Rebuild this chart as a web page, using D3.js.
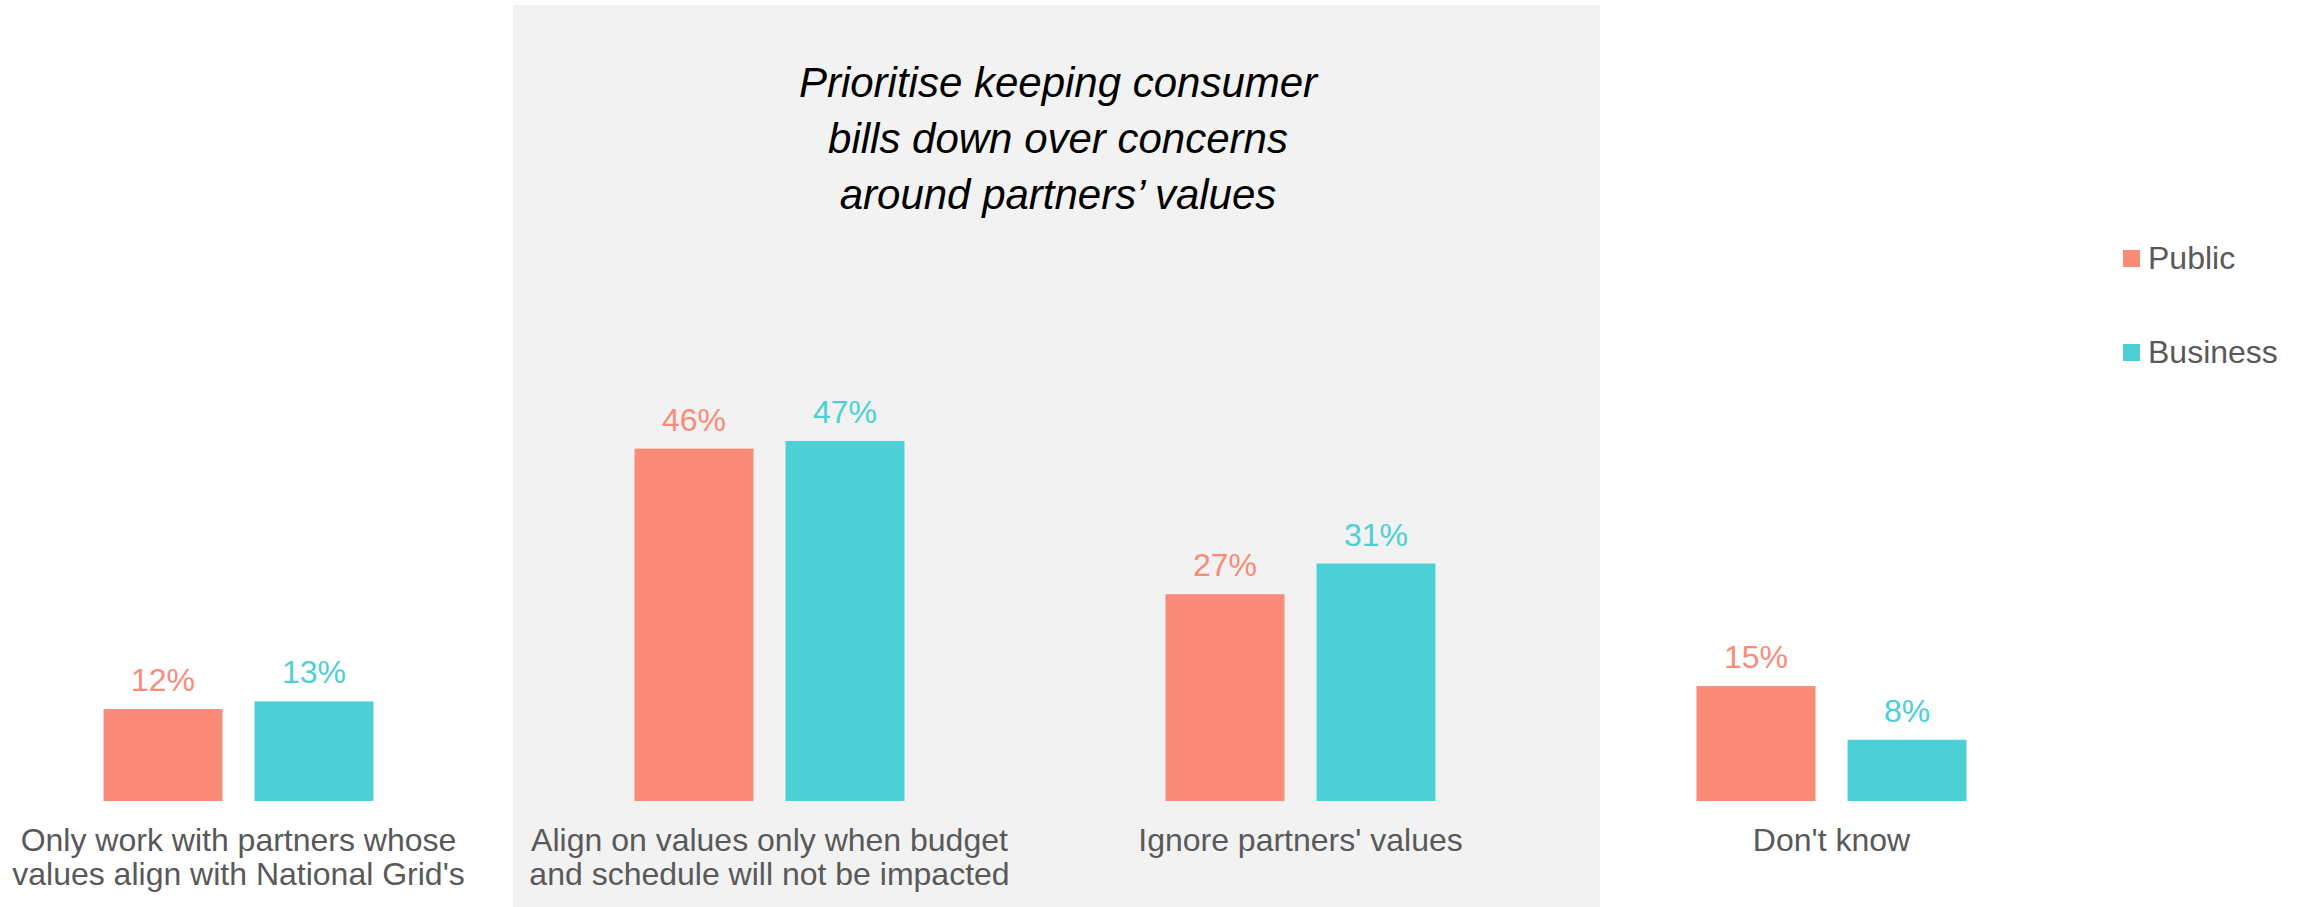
<!DOCTYPE html>
<html>

<head>
    <title>Partners' values</title>
    <script src="https://d3js.org/d3.v7.min.js"></script>
    <style>
        body { margin: 0; background: #ffffff; }
        text { font-family: "Liberation Sans", Arial, sans-serif; }
    </style>
</head>

<body>
    <svg class='chart_svg' width='2300' height='907'></svg>

    <script>
        // data
        let categories = ['only', 'align', 'ignore', 'dontknow']
        let category_lines = [
            ["Only work with partners whose", "values align with National Grid's"],
            ["Align on values only when budget", "and schedule will not be impacted"],
            ["Ignore partners' values"],
            ["Don't know"]
        ]
        let series = ['Public', 'Business']
        let public_values = [12, 46, 27, 15]
        let business_values = [13, 47, 31, 8]
        let series_colors = ['#F98B78', '#4DD0D5']
        let panel_title = ['Prioritise keeping consumer', 'bills down over concerns', 'around partners\u2019 values']

        let svg = d3.select('.chart_svg')

        // grey panel behind the middle two groups
        svg.append('rect')
            .attr('x', 513)
            .attr('y', 5)
            .attr('width', 1087)
            .attr('height', 902)
            .attr('fill', '#F2F2F2')

        svg.append('text')
            .attr('text-anchor', 'middle')
            .style('font-size', '42px')
            .style('font-style', 'italic')
            .style('fill', '#000000')
            .selectAll('tspan')
            .data(panel_title)
            .enter()
            .append('tspan')
            .attr('x', 1058)
            .attr('y', function(d, i) { return 97 + i * 56 })
            .text(function(d) { return d })

        let x0 = d3.scaleBand()
            .domain(categories)
            .range([-27, 2097])
            .padding(0)

        let x1 = d3.scaleBand()
            .domain(series)
            .range([0, 270])
            .paddingInner(0.212)

        let y = d3.scaleLinear()
            .domain([0, 100])
            .range([801, 35])

        let rows = categories.map(function(c, i) {
            return { cat: c, values: [public_values[i], business_values[i]] }
        })

        let groups = svg.selectAll('.group')
            .data(rows)
            .enter()
            .append('g')
            .attr('class', 'group')
            .attr('transform', function(d) {
                return 'translate(' + (x0(d.cat) + x0.bandwidth() / 2 - 135) + ',0)'
            })

        groups.selectAll('rect')
            .data(function(d) { return d.values.map(function(v, j) { return { s: series[j], v: v, c: series_colors[j] } }) })
            .enter()
            .append('rect')
            .attr('x', function(d) { return x1(d.s) })
            .attr('y', function(d) { return y(d.v) })
            .attr('width', x1.bandwidth())
            .attr('height', function(d) { return y(0) - y(d.v) })
            .attr('fill', function(d) { return d.c })

        groups.selectAll('.value_label')
            .data(function(d) { return d.values.map(function(v, j) { return { s: series[j], v: v, c: series_colors[j] } }) })
            .enter()
            .append('text')
            .attr('class', 'value_label')
            .attr('x', function(d) { return x1(d.s) + x1.bandwidth() / 2 })
            .attr('y', function(d) { return y(d.v) - 18 })
            .attr('text-anchor', 'middle')
            .style('font-size', '32px')
            .style('fill', function(d) { return d.c })
            .text(function(d) { return d.v + '%' })

        // category labels under each group
        categories.forEach(function(c, i) {
            svg.append('text')
                .attr('text-anchor', 'middle')
                .style('font-size', '32px')
                .style('fill', '#595959')
                .selectAll('tspan')
                .data(category_lines[i])
                .enter()
                .append('tspan')
                .attr('x', x0(c) + x0.bandwidth() / 2)
                .attr('y', function(d, k) { return 851 + k * 34 })
                .text(function(d) { return d })
        })

        // legend
        let legend = svg.selectAll('.legend')
            .data(series)
            .enter()
            .append('g')
            .attr('class', 'legend')
            .attr('transform', function(d, i) { return 'translate(2123,' + (250 + i * 94) + ')' })

        legend.append('rect')
            .attr('width', 17)
            .attr('height', 17)
            .attr('fill', function(d, i) { return series_colors[i] })

        legend.append('text')
            .attr('x', 25)
            .attr('y', 19)
            .style('font-size', '32px')
            .style('fill', '#595959')
            .text(function(d) { return d })
    </script>
</body>

</html>
